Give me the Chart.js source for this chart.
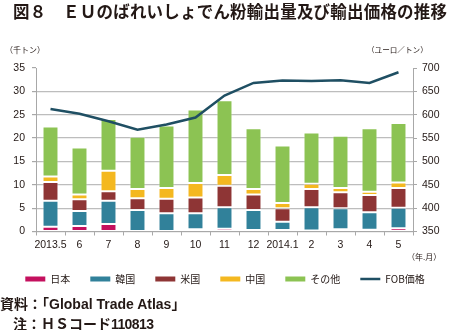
<!DOCTYPE html>
<html>
<head>
<meta charset="utf-8">
<script src="https://cdn.jsdelivr.net/npm/chart.js@4/dist/chart.umd.min.js"></script>
<style>
  html, body { margin: 0; padding: 0; background: #fff; }
  #wrap { position: relative; width: 450px; height: 330px; overflow: hidden; }
  #c { position: absolute; left: 0; top: 0; }
  .t { position: absolute; white-space: nowrap; color: #231815; font-family: "Liberation Sans", "Noto Sans CJK JP", sans-serif; z-index: 2; }
</style>
</head>
<body>
<div id="wrap">
  <canvas id="c" width="450" height="330"></canvas>
  <div class="t" style="left:13px; top:2px; font-size:16.5px; line-height:18px; font-weight:bold; font-family:'Noto Sans CJK JP',sans-serif; letter-spacing:0.2px;">図８　ＥＵのばれいしょでん粉輸出量及び輸出価格の推移</div>
  <div class="t" style="left:5px; top:45px; font-size:8px; line-height:10px; font-family:'Noto Sans CJK JP',sans-serif;">（千トン）</div>
  <div class="t" style="left:367px; top:45px; font-size:7.6px; line-height:10px; font-family:'Noto Sans CJK JP',sans-serif;">（ユーロ／トン）</div>
  <div class="t" style="left:407px; top:252px; font-size:8px; line-height:10px; font-family:'Noto Sans CJK JP',sans-serif;">（年.月）</div>
  <div class="t" style="left:0px; top:295px; font-size:14px; line-height:17px; font-weight:bold; font-family:'Noto Sans CJK JP',sans-serif;">資料：「<span style="font-family:'Liberation Sans',sans-serif;font-weight:bold;">Global Trade Atlas</span>」</div>
  <div class="t" style="left:13px; top:315px; font-size:14px; line-height:17px; font-weight:bold; font-family:'Noto Sans CJK JP',sans-serif;">注：ＨＳコード<span style="font-family:'Liberation Sans',sans-serif;letter-spacing:-0.6px;">110813</span></div>
</div>
<script>
const categories = ['2013.5','6','7','8','9','10','11','12','2014.1','2','3','4','5'];
const japan  = [1.0, 1.2, 1.6, 0.1, 0.1, 0.5, 0.6, 0.3, 0.3, 0.2, 0.5, 0.35, 0.7];
const korea  = [5.6, 3.2, 5.0, 4.5, 3.8, 3.4, 4.6, 4.3, 1.8, 5.0, 4.5, 3.75, 4.4];
const usa    = [4.0, 2.5, 2.0, 2.5, 3.1, 3.4, 4.6, 3.3, 2.9, 3.9, 3.4, 3.7, 4.2];
const china  = [1.2, 1.0, 4.4, 2.0, 2.3, 3.1, 2.3, 1.2, 1.1, 1.1, 0.9, 0.7, 1.2];
const others = [10.7, 10.1, 11.1, 11.2, 13.4, 15.7, 16.0, 13.0, 12.3, 11.0, 11.2, 13.6, 12.7];
const fobPrice = [612, 602, 586, 568, 579, 594, 641, 668, 673, 672, 674, 668, 691];
const leftTicks = [0, 5, 10, 15, 20, 25, 30, 35];
const rightTicks = [350, 400, 450, 500, 550, 600, 650, 700];

const GRID = '#bdbdbd';
const AXIS = '#a8a8a8';
const TXT = '#231815';

function barDs(label, data, color) {
  return { type: 'bar', label, data, backgroundColor: color, borderColor: 'rgba(255,255,255,0.35)', borderWidth: 1,
           borderSkipped: false, yAxisID: 'y', stack: 's', order: 1, barPercentage: 0.55, categoryPercentage: 1.0 };
}

new Chart(document.getElementById('c'), {
  data: {
    labels: categories,
    datasets: [
      barDs('日本', japan, '#c4105e'),
      barDs('韓国', korea, '#31819a'),
      barDs('米国', usa, '#8e3535'),
      barDs('中国', china, '#f4b820'),
      barDs('その他', others, '#8cc353'),
      { type: 'line', label: 'FOB価格', data: fobPrice, borderColor: '#1f4f63', backgroundColor: '#1f4f63',
        borderWidth: 2.5, pointRadius: 0, tension: 0, yAxisID: 'y1', order: 0 }
    ]
  },
  options: {
    responsive: false,
    animation: false,
    layout: { padding: { top: 68, bottom: 36, left: 0, right: 0 } },
    plugins: {
      tooltip: { enabled: false },
      legend: {
        position: 'bottom',
        labels: {
          usePointStyle: true,
          pointStyleWidth: 20,
          boxHeight: 5,
          padding: 20,
          color: TXT,
          font: { size: 10, family: "'Noto Sans CJK JP', sans-serif" },
          sort: (a, b) => a.datasetIndex - b.datasetIndex,
          generateLabels: (chart) => {
            const items = Chart.defaults.plugins.legend.labels.generateLabels(chart);
            items.forEach(it => {
              const ds = chart.data.datasets[it.datasetIndex];
              if (ds.type === 'line') {
                it.pointStyle = 'line'; it.strokeStyle = ds.borderColor; it.lineWidth = 2.5;
              } else {
                it.pointStyle = 'rect'; it.fillStyle = ds.backgroundColor; it.strokeStyle = ds.backgroundColor; it.lineWidth = 0;
              }
            });
            return items;
          }
        }
      }
    },
    scales: {
      x: {
        stacked: true,
        afterFit: (s) => { s.height = 22.5; },
        grid: { display: true, drawOnChartArea: false, offset: true, tickLength: 4, color: AXIS, tickColor: AXIS },
        border: { display: true, color: AXIS },
        ticks: { color: TXT, padding: 3, maxRotation: 0, autoSkip: false, font: { size: 10.5, family: "'Liberation Sans', sans-serif" } }
      },
      y: {
        position: 'left',
        stacked: true,
        min: 0, max: 35,
        afterFit: (s) => { s.width = 36; },
        afterBuildTicks: (s) => { s.ticks = leftTicks.map(v => ({ value: v })); },
        grid: { color: (ctx) => (ctx.tick && ctx.tick.value === 35) ? 'rgba(0,0,0,0)' : GRID, lineWidth: 1.2, tickLength: 4, tickColor: AXIS },
        border: { display: true, color: AXIS },
        ticks: { color: TXT, padding: 7, font: { size: 10.5, family: "'Liberation Sans', sans-serif" } }
      },
      y1: {
        position: 'right',
        min: 350, max: 700,
        afterFit: (s) => { s.width = 37; },
        afterBuildTicks: (s) => { s.ticks = rightTicks.map(v => ({ value: v })); },
        grid: { drawOnChartArea: false, tickLength: 4, color: AXIS, tickColor: AXIS },
        border: { display: true, color: AXIS },
        ticks: { color: TXT, padding: 5, font: { size: 10.5, family: "'Liberation Sans', sans-serif" } }
      }
    }
  }
});
</script>
</body>
</html>
